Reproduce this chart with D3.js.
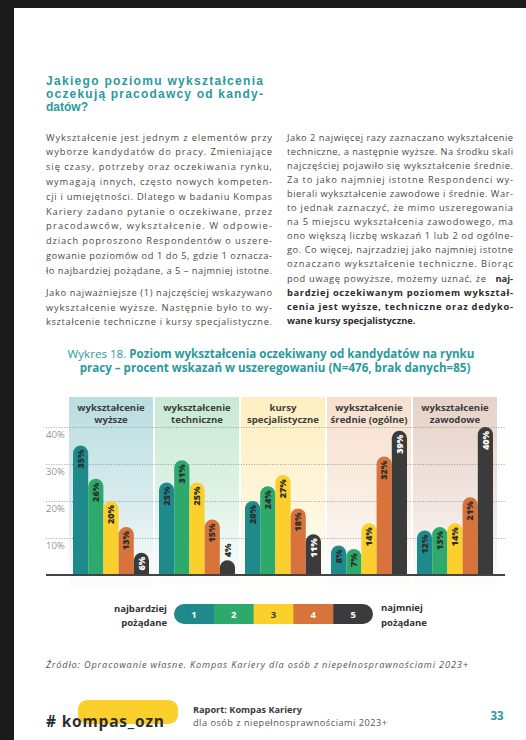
<!DOCTYPE html>
<html><head><meta charset="utf-8">
<script src="https://cdn.jsdelivr.net/npm/d3@7"></script>
<style>body{margin:0;padding:0;background:#1b1b1b;}svg{display:block;}</style>
</head><body>
<svg id="c" width="526" height="740"></svg>
<script>
// ---- data ----
const categories = ["wyższe", "techniczne", "kursy", "średnie", "zawodowe"];
const headerLine1 = ["wykształcenie", "wykształcenie", "kursy", "wykształcenie", "wykształcenie"];
const headerLine2 = ["wyższe", "techniczne", "specjalistyczne", "średnie (ogólne)", "zawodowe"];
const ranks = ["1", "2", "3", "4", "5"];
const rank1 = [35, 25, 20, 8, 12];
const rank2 = [26, 31, 24, 7, 13];
const rank3 = [20, 25, 27, 14, 14];
const rank4 = [13, 15, 18, 32, 21];
const rank5 = [6, 4, 11, 39, 40];
const yTicks = [10, 20, 30, 40];
const rankColors = ["#1f8a8c", "#2daa6b", "#fbcf2c", "#d8733b", "#3b3b3b"];
const panelColors = ["#b9dde0", "#c9e9d5", "#fdefc0", "#f6e0cd", "#e6d2c9"];

const F = "'Open Sans', 'DejaVu Sans', sans-serif";
const svg = d3.select("#c");
svg.append("rect").attr("width", 526).attr("height", 740).attr("fill", "#1b1b1b");
svg.append("rect").attr("x", 14).attr("y", 8).attr("width", 512).attr("height", 732).attr("fill", "#ffffff");

// ---- heading ----
const teal = "#2a9a9c";
const titleLines = [
  {t: "Jakiego poziomu wykształcenia", j: true},
  {t: "oczekują pracodawcy od kandy-", j: true},
  {t: "datów?", j: false}
];
titleLines.forEach((l, i) => {
  const t = svg.append("text").attr("x", 46).attr("y", 84.5 + i * 13.4)
    .attr("font-family", "'Liberation Sans', Arial, sans-serif").attr("font-weight", 700).attr("font-size", 12)
    .attr("fill", teal).text(l.t);
  if (l.j) t.attr("textLength", 217).attr("lengthAdjust", "spacing");
});

// ---- body text ----
function drawLines(lines, x, y0, lh, width) {
  lines.forEach((l, i) => {
    const t = svg.append("text").attr("x", x).attr("y", y0 + i * lh)
      .attr("font-family", F).attr("font-size", 9.3).attr("fill", "#4a4a4a")
      .attr("font-weight", l.b ? 700 : 400).text(l.t);
    if (l.b) t.attr("fill", "#2b2b2b");
    if (l.j) t.attr("textLength", l.w || width).attr("lengthAdjust", "spacing");
  });
}
const leftLines = [
  {t: "Wykształcenie jest jednym z elementów przy", j: true},
  {t: "wyborze kandydatów do pracy. Zmieniające", j: true},
  {t: "się czasy, potrzeby oraz oczekiwania rynku,", j: true},
  {t: "wymagają innych, często nowych kompeten-", j: true},
  {t: "cji i umiejętności. Dlatego w badaniu Kompas", j: true},
  {t: "Kariery zadano pytanie o oczekiwane, przez", j: true},
  {t: "pracodawców, wykształcenie. W odpowie-", j: true},
  {t: "dziach poproszono Respondentów o uszere-", j: true},
  {t: "gowanie poziomów od 1 do 5, gdzie 1 oznacza-", j: true},
  {t: "ło najbardziej pożądane, a 5 – najmniej istotne.", j: true}
];
drawLines(leftLines, 46, 140.5, 14.8, 226);
const leftLines2 = [
  {t: "Jako najważniejsze (1) najczęściej wskazywano", j: true},
  {t: "wykształcenie wyższe. Następnie było to wy-", j: true},
  {t: "kształcenie techniczne i kursy specjalistyczne.", j: true}
];
drawLines(leftLines2, 46, 296, 14.6, 226);
const rightLines = [
  {t: "Jako 2 najwięcej razy zaznaczano wykształcenie", j: true},
  {t: "techniczne, a następnie wyższe. Na środku skali", j: true},
  {t: "najczęściej pojawiło się wykształcenie średnie.", j: true},
  {t: "Za to jako najmniej istotne Respondenci wy-", j: true},
  {t: "bierali wykształcenie zawodowe i średnie. War-", j: true},
  {t: "to jednak zaznaczyć, że mimo uszeregowania", j: true},
  {t: "na 5 miejscu wykształcenia zawodowego, ma", j: true},
  {t: "ono większą liczbę wskazań 1 lub 2 od ogólne-", j: true},
  {t: "go. Co więcej, najrzadziej jako najmniej istotne", j: true},
  {t: "oznaczano wykształcenie techniczne. Biorąc", j: true},
  {t: "pod uwagę powyższe, możemy uznać, że", j: true, w: 199},
  {t: "bardziej oczekiwanym poziomem wykształ-", j: true, b: true},
  {t: "cenia jest wyższe, techniczne oraz dedyko-", j: true, b: true},
  {t: "wane kursy specjalistyczne.", j: false, b: true}
];
drawLines(rightLines, 287, 140.5, 14.1, 226);
svg.append("text").attr("x", 513).attr("y", 140.5 + 10 * 14.1).attr("text-anchor", "end")
  .attr("font-family", F).attr("font-size", 9.3).attr("font-weight", 700).attr("fill", "#2b2b2b").text("naj-");

// ---- chart title ----
const ct1 = svg.append("text").attr("x", 271).attr("y", 358).attr("text-anchor", "middle")
  .attr("font-family", F).attr("font-size", 11.6).attr("fill", teal);
ct1.append("tspan").attr("font-weight", 400).text("Wykres 18. ");
ct1.append("tspan").attr("font-weight", 700).text("Poziom wykształcenia oczekiwany od kandydatów na rynku");
svg.append("text").attr("x", 275).attr("y", 372).attr("text-anchor", "middle")
  .attr("font-family", F).attr("font-size", 11.6).attr("font-weight", 700).attr("fill", teal)
  .text("pracy – procent wskazań w uszeregowaniu (N=476, brak danych=85)");

// ---- chart ----
const x = d3.scaleBand().domain(categories).range([68, 498]).paddingInner(0);
const xi = d3.scaleBand().domain(ranks).range([5, x.bandwidth() - 5]);
const y = d3.scaleLinear().domain([0, 40]).range([575, 427]);
const defs = svg.append("defs");
categories.forEach((c, i) => {
  const g = defs.append("linearGradient").attr("id", "pg" + i).attr("x1", 0).attr("x2", 0).attr("y1", 0).attr("y2", 1);
  g.append("stop").attr("offset", 0).attr("stop-color", panelColors[i]);
  g.append("stop").attr("offset", 0.55).attr("stop-color", d3.interpolateRgb(panelColors[i], "#fff")(0.45));
  g.append("stop").attr("offset", 1).attr("stop-color", "#ffffff");
});
const chart = svg.append("g");
chart.selectAll("rect.panel").data(categories).join("rect").attr("class", "panel")
  .attr("x", d => x(d) + 1).attr("width", x.bandwidth() - 2)
  .attr("y", 397).attr("height", 195).attr("fill", (d, i) => `url(#pg${i})`);

// headers
categories.forEach((c, i) => {
  const cx = x(c) + x.bandwidth() / 2;
  [headerLine1[i], headerLine2[i]].forEach((s, k) => {
    chart.append("text").attr("x", cx).attr("y", 410.5 + k * 12).attr("text-anchor", "middle")
      .attr("font-family", F).attr("font-weight", 700).attr("font-size", 9.6).attr("fill", "#3d3d3d").text(s);
  });
});

// grid via axis
const axis = d3.axisLeft(y).tickValues(yTicks).tickSize(-(505 - 46)).tickFormat(d => d + "%");
const ag = chart.append("g").attr("transform", "translate(46,0)").call(axis);
ag.select(".domain").remove();
ag.selectAll(".tick line").attr("stroke", "#8a8a8a").attr("stroke-dasharray", "1,1.6").attr("stroke-width", 0.8);
ag.selectAll(".tick text").attr("x", 0).attr("dy", "1.05em").attr("text-anchor", "start")
  .attr("font-family", F).attr("font-size", 9.6).attr("fill", "#555").attr("font-weight", 300);

// bars
const series = [rank1, rank2, rank3, rank4, rank5];
const barData = [];
categories.forEach((c, ci) => ranks.forEach((r, ri) => barData.push({c, r, ri, v: series[ri][ci]})));
const bw = xi.bandwidth();
const rr = bw / 2;
function barPath(d) {
  const x0 = x(d.c) + xi(d.r), x1 = x0 + bw, top = y(d.v), base = y(0);
  return `M${x0},${base}V${top + rr}A${rr},${rr} 0 0 1 ${x1},${top + rr}V${base}Z`;
}
chart.selectAll("path.bar").data(barData).join("path").attr("class", "bar")
  .attr("d", barPath).attr("fill", d => rankColors[d.ri]);
chart.selectAll("text.bl").data(barData).join("text").attr("class", "bl")
  .attr("transform", d => {
    const cx = x(d.c) + xi(d.r) + bw / 2;
    const ty = d.v < 5 ? y(d.v) - 3 : y(d.v) + 4;
    return `translate(${cx},${ty}) rotate(-90)`;
  })
  .attr("text-anchor", d => d.v < 5 ? "start" : "end")
  .attr("dy", "0.36em")
  .attr("font-family", F).attr("font-weight", 800).attr("font-size", 9)
  .attr("fill", d => (d.ri === 4 && d.v >= 5) ? "#ffffff" : "#2d2d2d")
  .text(d => d.v + "%");

// baseline
chart.append("line").attr("x1", 46).attr("x2", 505).attr("y1", y(0)).attr("y2", y(0))
  .attr("stroke", "#444").attr("stroke-width", 2);

// ---- legend ----
const lx = d3.scaleBand().domain(ranks).range([174, 373]);
const lg = svg.append("g");
const clip = defs.append("clipPath").attr("id", "pill");
clip.append("rect").attr("x", 174).attr("y", 604).attr("width", 199).attr("height", 20).attr("rx", 10);
lg.append("g").attr("clip-path", "url(#pill)").selectAll("rect").data(ranks).join("rect")
  .attr("x", d => lx(d)).attr("width", lx.bandwidth() + 0.5).attr("y", 604).attr("height", 20)
  .attr("fill", (d, i) => rankColors[i]);
lg.selectAll("text.ln").data(ranks).join("text").attr("class", "ln")
  .attr("x", d => lx(d) + lx.bandwidth() / 2).attr("y", 617.5).attr("text-anchor", "middle")
  .attr("font-family", F).attr("font-weight", 700).attr("font-size", 9.5)
  .attr("fill", (d, i) => i === 2 ? "#3a3a3a" : "#ffffff").text(d => d);
[["najbardziej", 611.5], ["pożądane", 626]].forEach(([s, yy]) =>
  lg.append("text").attr("x", 167).attr("y", yy).attr("text-anchor", "end").attr("font-family", F)
    .attr("font-weight", 700).attr("font-size", 9.5).attr("fill", "#333").text(s));
[["najmniej", 611], ["pożądane", 625.5]].forEach(([s, yy]) =>
  lg.append("text").attr("x", 381).attr("y", yy).attr("font-family", F)
    .attr("font-weight", 700).attr("font-size", 9.5).attr("fill", "#333").text(s));

// ---- source ----
svg.append("text").attr("x", 46).attr("y", 668).attr("font-family", F).attr("font-style", "italic")
  .attr("font-size", 9.2).attr("fill", "#555").attr("textLength", 422).attr("lengthAdjust", "spacing")
  .text("Źródło: Opracowanie własne. Kompas Kariery dla osób z niepełnosprawnościami 2023+");

// ---- footer ----
svg.append("rect").attr("x", 78).attr("y", 700).attr("width", 100).attr("height", 24).attr("rx", 9).attr("fill", "#fbcf2c");
svg.append("text").attr("x", 46).attr("y", 727).attr("font-family", F).attr("font-weight", 700)
  .attr("font-size", 15.5).attr("fill", "#2d2d2d").attr("textLength", 118).attr("lengthAdjust", "spacing").text("# kompas_ozn");
svg.append("text").attr("x", 193).attr("y", 712.5).attr("font-family", F).attr("font-weight", 700)
  .attr("font-size", 9.2).attr("fill", "#3a3a3a").text("Raport: Kompas Kariery");
svg.append("text").attr("x", 193).attr("y", 725.5).attr("font-family", F).attr("font-weight", 400)
  .attr("font-size", 9.2).attr("fill", "#555").attr("textLength", 194).attr("lengthAdjust", "spacing")
  .text("dla osób z niepełnosprawnościami 2023+");
svg.append("text").attr("x", 497).attr("y", 720).attr("text-anchor", "middle").attr("font-family", F)
  .attr("font-weight", 700).attr("font-size", 11.5).attr("fill", teal).text("33");
</script>
</body></html>
